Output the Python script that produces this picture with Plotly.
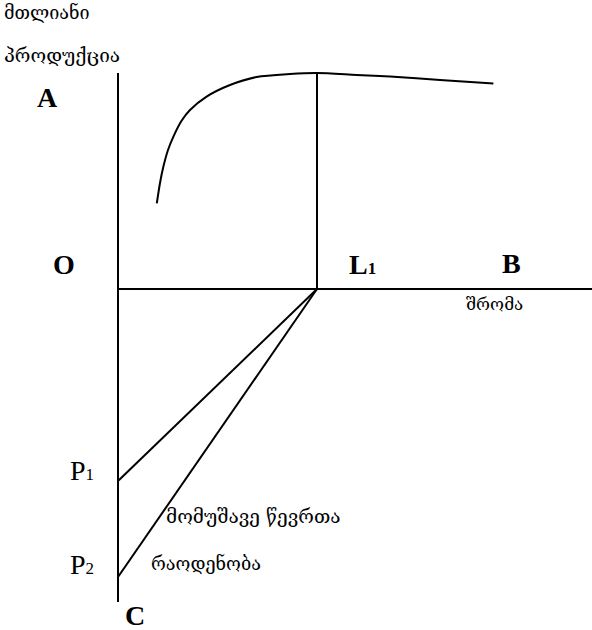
import plotly.graph_objects as go

# --- data (units: 1 unit ~ labour / output scale of the diagram) ---
curve_x = [1.94, 2.1, 2.27, 2.5, 2.77, 3.17, 3.6, 4.43, 5.6, 6.93, 8.6, 9.95, 11.93, 13.6, 16.1, 18.77]
curve_y = [4.28, 5.3, 6.12, 6.95, 7.62, 8.4, 8.95, 9.62, 10.2, 10.6, 10.75, 10.8, 10.7, 10.62, 10.45, 10.28]

L1 = 9.95
P1 = -9.6
P2 = -14.4
y_top = 10.8
y_bottom = -15.65
x_right = 23.8

tick_labels = {
    "total": ["მთლიანი", "პროდუქცია"],
    "labour": "შრომა",
    "workers": ["მომუშავე წევრთა", "რაოდენობა"],
}

fig = go.Figure()
line = dict(color="black", width=2)
# vertical axis O-C
fig.add_trace(go.Scatter(x=[0, 0], y=[y_top, y_bottom], mode="lines", line=line))
# horizontal axis O-B
fig.add_trace(go.Scatter(x=[0, x_right], y=[0, 0], mode="lines", line=line))
# L1 vertical
fig.add_trace(go.Scatter(x=[L1, L1], y=[0, y_top], mode="lines", line=line))
# production curve
fig.add_trace(go.Scatter(x=curve_x, y=curve_y, mode="lines", line=dict(color="black", width=2, shape="spline", smoothing=0.8)))
# rays to P1, P2
fig.add_trace(go.Scatter(x=[L1, 0], y=[0, P1], mode="lines", line=line))
fig.add_trace(go.Scatter(x=[L1, 0], y=[0, P2], mode="lines", line=line))

serif = "Liberation Serif"
geo = "DejaVu Serif"

def ann(x, y, text, size, font=serif, xanchor="center", bold=False):
    t = f"<b>{text}</b>" if bold else text
    fig.add_annotation(x=x, y=y, text=t, showarrow=False, xanchor=xanchor, yanchor="middle",
                       font=dict(family=font, size=size, color="black"))

ann(-5.8, 13.85, tick_labels["total"][0], 18, geo, "left")
ann(-5.8, 11.7, tick_labels["total"][1], 19, geo, "left")
ann(-3.55, 9.6, "A", 28, bold=True)
ann(-2.7, 1.25, "O", 28, bold=True)
ann(12.2, 1.25, "L<span style='font-size:17px'>1</span>", 28, bold=True)
ann(19.65, 1.3, "B", 28, bold=True)
ann(17.3, -0.75, tick_labels["labour"], 17, geo, "left")
ann(-1.8, -9.05, "P<span style='font-size:17px'>1</span>", 28)
ann(-1.8, -13.75, "P<span style='font-size:17px'>2</span>", 28)
ann(0.85, -16.3, "C", 28, bold=True)
ann(2.3, -11.35, tick_labels["workers"][0], 19, geo, "left")
ann(1.55, -13.7, tick_labels["workers"][1], 18, geo, "left")

fig.update_layout(
    width=592, height=630,
    margin=dict(l=0, r=0, t=0, b=0),
    paper_bgcolor="white", plot_bgcolor="white",
    showlegend=False,
    xaxis=dict(range=[-5.9, 23.7], visible=False, fixedrange=True),
    yaxis=dict(range=[-17.05, 14.45], visible=False, fixedrange=True),
)
fig.write_html("out.html", config={"displayModeBar": False},
               post_script="document.body.style.margin='0';document.body.style.overflow='hidden';")
